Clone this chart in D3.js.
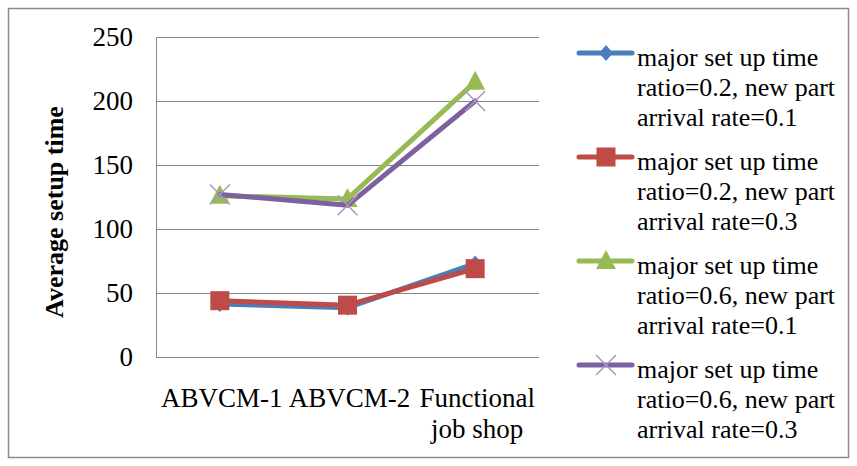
<!DOCTYPE html>
<html>
<head>
<meta charset="utf-8">
<script src="https://cdn.jsdelivr.net/npm/d3@7"></script>
<style>
  html, body { margin: 0; padding: 0; background: #fff; }
  svg { display: block; }
</style>
</head>
<body>
<svg id="chart" width="857" height="466"></svg>
<script>
// Categories and series values
const categories = ["ABVCM-1", "ABVCM-2", "Functional job shop"];
const categoryLines = [["ABVCM-1"], ["ABVCM-2"], ["Functional", "job shop"]];
const seriesNames = [
  ["major set up time", "ratio=0.2, new part", "arrival rate=0.1"],
  ["major set up time", "ratio=0.2, new part", "arrival rate=0.3"],
  ["major set up time", "ratio=0.6, new part", "arrival rate=0.1"],
  ["major set up time", "ratio=0.6, new part", "arrival rate=0.3"]
];
const s1Values = [41.5, 38.5, 73];
const s2Values = [44, 40.5, 69];
const s3Values = [126, 123.5, 215];
const s4Values = [127, 118.5, 200];
const yTicks = [0, 50, 100, 150, 200, 250];

const seriesColors = ["#4a7ebb", "#be4b48", "#98b954", "#7d60a0"];
const markerTypes = ["diamond", "square", "triangle", "cross"];
const allValues = [s1Values, s2Values, s3Values, s4Values];

const FONT = '"Liberation Serif"';

const svg = d3.select("#chart").attr("font-family", FONT);

// outer chart border
svg.append("rect")
  .attr("x", 8.5).attr("y", 8.5)
  .attr("width", 840).attr("height", 449)
  .attr("fill", "#fff").attr("stroke", "#8a8a8a").attr("stroke-width", 1.5);

const plot = { left: 156, right: 539, top: 37, bottom: 357 };

const x = d3.scaleBand().domain(categories).range([plot.left, plot.right]).padding(0);
const y = d3.scaleLinear().domain([0, 250]).range([plot.bottom, plot.top]);
const cx = c => x(c) + x.bandwidth() / 2;

// gridlines
svg.append("g").selectAll("line").data(yTicks).join("line")
  .attr("x1", plot.left).attr("x2", plot.right)
  .attr("y1", d => Math.round(y(d)) + 0.5).attr("y2", d => Math.round(y(d)) + 0.5)
  .attr("stroke", "#868686").attr("stroke-width", 1);

// y axis line
svg.append("line")
  .attr("x1", plot.left + 0.5).attr("x2", plot.left + 0.5)
  .attr("y1", plot.top).attr("y2", plot.bottom)
  .attr("stroke", "#868686");

// y tick labels
const yAxis = d3.axisLeft(y).tickValues(yTicks).tickSize(0).tickPadding(23);
const gy = svg.append("g").attr("transform", `translate(${plot.left},0)`).call(yAxis)
  .attr("font-family", FONT).attr("font-size", 27);
gy.select(".domain").remove();
gy.selectAll("text")
  .attr("fill", "#000")
  .attr("dy", "0.3em");

// y axis title
svg.append("text")
  .attr("transform", `translate(63,212) rotate(-90)`)
  .attr("text-anchor", "middle")
  .attr("font-family", FONT)
  .attr("font-size", 26)
  .attr("font-weight", "bold")
  .text("Average setup time");

// x category labels
const xl = svg.append("g").attr("font-family", FONT).attr("font-size", 27);
categories.forEach((c, i) => {
  const t = xl.append("text")
    .attr("x", cx(c) + 2).attr("y", 407)
    .attr("text-anchor", "middle");
  categoryLines[i].forEach((ln, j) => {
    t.append("tspan").attr("x", cx(c) + 2).attr("dy", j === 0 ? 0 : 31).text(ln);
  });
});

// marker drawing
function drawMarker(g, type, px, py, color) {
  if (type === "diamond") {
    g.append("path")
      .attr("d", `M${px},${py - 8}L${px + 7},${py}L${px},${py + 8}L${px - 7},${py}Z`)
      .attr("fill", color);
  } else if (type === "square") {
    g.append("rect")
      .attr("x", px - 9.5).attr("y", py - 9.5).attr("width", 19).attr("height", 19)
      .attr("fill", color);
  } else if (type === "triangle") {
    g.append("path")
      .attr("d", `M${px},${py - 11}L${px + 10},${py + 8}L${px - 10},${py + 8}Z`)
      .attr("fill", color);
  } else if (type === "cross") {
    g.append("path")
      .attr("d", `M${px - 10},${py - 10}L${px + 10},${py + 10}M${px - 10},${py + 10}L${px + 10},${py - 10}`)
      .attr("stroke", "#a797c4").attr("stroke-width", 1.5).attr("fill", "none");
  }
}

const line = d3.line().x((d, i) => cx(categories[i])).y(d => y(d));

allValues.forEach((vals, si) => {
  const g = svg.append("g");
  g.append("path")
    .datum(vals)
    .attr("d", line)
    .attr("fill", "none")
    .attr("stroke", seriesColors[si])
    .attr("stroke-width", 5)
    .attr("stroke-linejoin", "round")
    .attr("stroke-linecap", "round");
  vals.forEach((v, i) => drawMarker(g, markerTypes[si], cx(categories[i]), y(v), seriesColors[si]));
});

// legend
const legendTop = [53, 157, 261, 365];
seriesNames.forEach((lines, si) => {
  const g = svg.append("g");
  const ly = legendTop[si];
  g.append("line")
    .attr("x1", 579).attr("x2", 632).attr("y1", ly).attr("y2", ly)
    .attr("stroke", seriesColors[si]).attr("stroke-width", 5).attr("stroke-linecap", "round");
  drawMarker(g, markerTypes[si], 606, ly, seriesColors[si]);
  const t = g.append("text").attr("x", 637).attr("y", ly + 13)
    .attr("font-family", FONT).attr("font-size", 26);
  lines.forEach((ln, j) => {
    t.append("tspan").attr("x", 637).attr("dy", j === 0 ? 0 : 30).text(ln);
  });
});
</script>
</body>
</html>
